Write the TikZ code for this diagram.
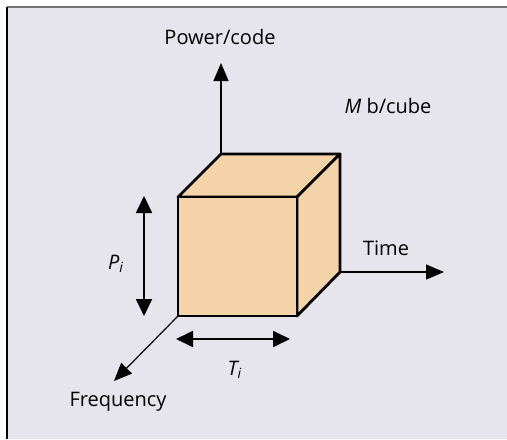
\documentclass[tikz,border=0pt]{standalone}
\usepackage{fontspec}
\setmainfont{Open Sans}
\usetikzlibrary{arrows.meta}
\definecolor{panelbg}{RGB}{230,228,236}
\definecolor{cubefill}{RGB}{244,211,168}
\tikzset{
  axis/.style={line width=.6pt,-{Triangle[length=9pt,width=7.5pt]}},
  span/.style={line width=.9pt,{Triangle[length=8.5pt,width=8pt]}-{Triangle[length=8.5pt,width=8pt]}},
  face/.style={fill=cubefill,draw=black,line width=1.4pt,line join=round},
  lbl/.style={inner sep=0pt}
}
\begin{document}
\begin{tikzpicture}[x=.5pt,y=-.5pt,font=\fontsize{10}{12}\selectfont]
    \useasboundingbox (0,0) rectangle (507,439);
    \fill[panelbg] (7,7) rectangle (507,439);
    \draw[black!55,line width=1pt] (6.5,7)--(507,7);
    \draw[line width=1pt] (7,7)--(7,439);
    % cube corners
    \coordinate (fbl) at (178,316); \coordinate (fbr) at (297,316);
    \coordinate (ftl) at (178,197); \coordinate (ftr) at (297,197);
    \coordinate (btl) at (221,154); \coordinate (btr) at (340,154);
    \coordinate (bbr) at (340,272);
    % axis ends
    \coordinate (pwr) at (221,63);
    \coordinate (tim) at (444,272);
    \coordinate (frq) at (114,381);
    \draw[axis] (btl)--(pwr);
    \draw[axis] (bbr)--(tim);
    \draw[axis] (fbl)--(frq);
    % cube faces
    \draw[face] (ftl)--(btl)--(btr)--(ftr)--cycle;
    \draw[face] (ftr)--(btr)--(bbr)--(fbr)--cycle;
    \draw[face] (fbl) rectangle (ftr);
    % size arrows
    \coordinate (pt) at (144,196); \coordinate (pb) at (144,316);
    \coordinate (tl) at (176,339); \coordinate (tr) at (290,339);
    \draw[span] (pt)--(pb);
    \draw[span] (tl)--(tr);
    % labels
    \node[lbl] (pwrlbl) at (220,37) {Power/code};
    \node[lbl] (cubelbl) at (388,106) {\textit{M} b/cube};
    \node[lbl] (timlbl) at (386,248) {Time};
    \node[lbl] (frqlbl) at (118,402) {Frequency};
    \node[lbl] (plbl) at (116,264) {\textit{P\textsubscript{i}}};
    \node[lbl] (tlbl) at (235,370) {\textit{T\textsubscript{i}}};
\end{tikzpicture}
\end{document}
